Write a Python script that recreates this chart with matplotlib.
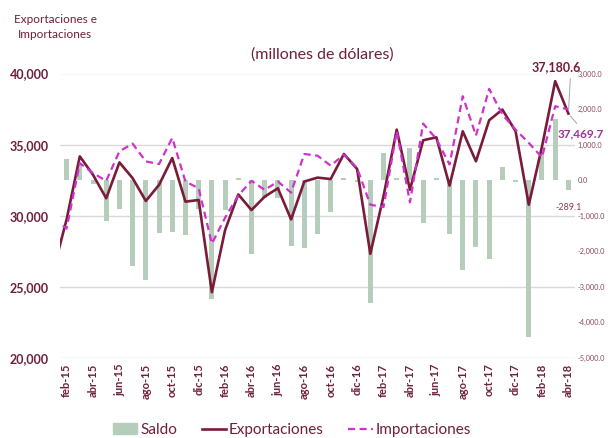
import numpy as np
import matplotlib
matplotlib.use("Agg")
import matplotlib.pyplot as plt
from matplotlib.patches import Patch
from matplotlib.lines import Line2D

plt.rcParams['font.family'] = ['Lato', 'DejaVu Sans']

# meses ene-15 .. abr-18 (ene-15 queda recortado a la izquierda)
meses = ['ene', 'feb', 'mar', 'abr', 'may', 'jun', 'jul', 'ago', 'sep', 'oct', 'nov', 'dic']
etiquetas = [f"{meses[k % 12]}-{15 + k // 12}" for k in range(40)]

exportaciones = [26180, 29740, 34175, 32877, 31226, 33750, 32642, 31038, 32170, 34057,
                 30990, 31108, 24623, 28986, 31500, 30401, 31344, 31934, 29741, 32406,
                 32680, 32582, 34343, 33286, 27324, 31380, 36056, 31831, 35305, 35516,
                 32120, 35939, 33826, 36714, 37465, 35939, 30775, 34860, 39460, 37180.6]
importaciones = [29770, 29104, 33703, 32995, 32453, 34528, 35071, 33821, 33632, 35472,
                 32406, 31934, 28042, 29858, 31430, 32453, 31816, 32406, 31627, 34340,
                 34222, 33521, 34296, 33357, 30775, 30610, 35939, 30939, 36479, 35399,
                 33600, 38404, 35634, 38920, 37113, 36056, 35117, 34108, 37700, 37469.7]
saldo = [-3590, 600, 420, -100, -1150, -800, -2400, -2800, -1480, -1450,
         -1550, -800, -3350, -830, 70, -2080, -490, -500, -1850, -1910,
         -1520, -900, 55, -40, -3440, 760, 60, 895, -1190, 50,
         -1500, -2520, -1880, -2230, 365, -60, -4400, 760, 1720, -289.1]

c_exp = '#7A1B3A'
c_imp = '#CC33CC'
c_bar = '#B7CDBB'
c_txt = '#6E1F3C'
c_grid = '#D9D9D9'

x = np.arange(len(etiquetas))

fig = plt.figure(figsize=(6.08, 4.38), dpi=100)
ax = fig.add_axes([60 / 608, 1 - 358 / 438, 515 / 608, 284.5 / 438])
ax2 = ax.twinx()

# barras (eje derecho)
ax.bar(x, saldo, width=0.38, color=c_bar, zorder=2)
ax.set_ylim(-5000, 3000)
ax.set_xlim(0.5, 39.5)
for v in [-5000, -3000, -1000, 1000, 3000]:
    ax.axhline(v, color=c_grid, lw=1, zorder=1)
ax.yaxis.tick_right()
ax.set_yticks(np.arange(-5000, 3001, 1000))
ax.set_yticklabels([f"{v:,.1f}" for v in np.arange(-5000, 3001, 1000)],
                   fontsize=5.3, color='#8B4A5C')
ax.tick_params(axis='y', length=0, pad=2)

# lineas (eje izquierdo)
ax2.plot(x, exportaciones, color=c_exp, lw=1.9, zorder=3)
ax2.plot(x, importaciones, color=c_imp, lw=1.6, ls=(0, (3.2, 2)), zorder=3)
ax2.set_ylim(20000, 40000)
ax2.yaxis.tick_left()
ax2.set_yticks(np.arange(20000, 40001, 5000))
ax2.set_yticklabels([f"{v:,}" for v in range(20000, 40001, 5000)],
                    fontsize=9, fontweight='bold', color=c_txt)
ax2.tick_params(axis='y', length=0, pad=8)

for a in (ax, ax2):
    for s in a.spines.values():
        s.set_visible(False)

ax.set_xticks(x[1::2])
ax.set_xticklabels(etiquetas[1::2], rotation=90, fontsize=8, fontweight='bold', color=c_txt)
ax.tick_params(axis='x', length=0, pad=4)

# etiquetas de datos
ax2.annotate(f"{exportaciones[-1]:,.1f}", xy=(39, exportaciones[-1]), xytext=(38.05, 40450),
             ha='center', va='center', fontsize=9, fontweight='bold', color=c_exp,
             annotation_clip=False,
             arrowprops=dict(arrowstyle='-', color='#A6A6A6', lw=0.7, relpos=(0.8, 0.1)))
ax2.annotate(f"{importaciones[-1]:,.1f}", xy=(39, exportaciones[-1]), xytext=(39.95, 35750),
             ha='center', va='center', fontsize=8.5, fontweight='bold', color='#A0309A',
             annotation_clip=False,
             arrowprops=dict(arrowstyle='-', color='#A6A6A6', lw=0.7, relpos=(0.5, 1.0)))
ax.annotate(f"{saldo[-1]:,.1f}", xy=(39, saldo[-1]), xytext=(0, -12), textcoords='offset points',
            ha='center', va='center', fontsize=6.5, color='#8B3A55', annotation_clip=False)

fig.text(55 / 608, 1 - 27 / 438, "Exportaciones e\nImportaciones", ha='center', va='center',
         fontsize=8.5, color=c_txt, linespacing=1.55)
fig.text(322 / 608, 1 - 55 / 438, "(millones de dólares)", ha='center', va='center',
         fontsize=11.5, color=c_txt)

handles = [Patch(color=c_bar, label='Saldo'),
           Line2D([], [], color=c_exp, lw=1.9, label='Exportaciones'),
           Line2D([], [], color=c_imp, lw=1.6, ls=(0, (3.2, 2)), label='Importaciones')]
leg = fig.legend(handles=handles, loc='center', bbox_to_anchor=(292 / 608, 1 - 430 / 438),
                 ncol=3, frameon=False, fontsize=11, handlelength=1.6, handletextpad=0.2,
                 columnspacing=1.6)
for t in leg.get_texts():
    t.set_color(c_txt)

fig.savefig('out.png', dpi=100)
